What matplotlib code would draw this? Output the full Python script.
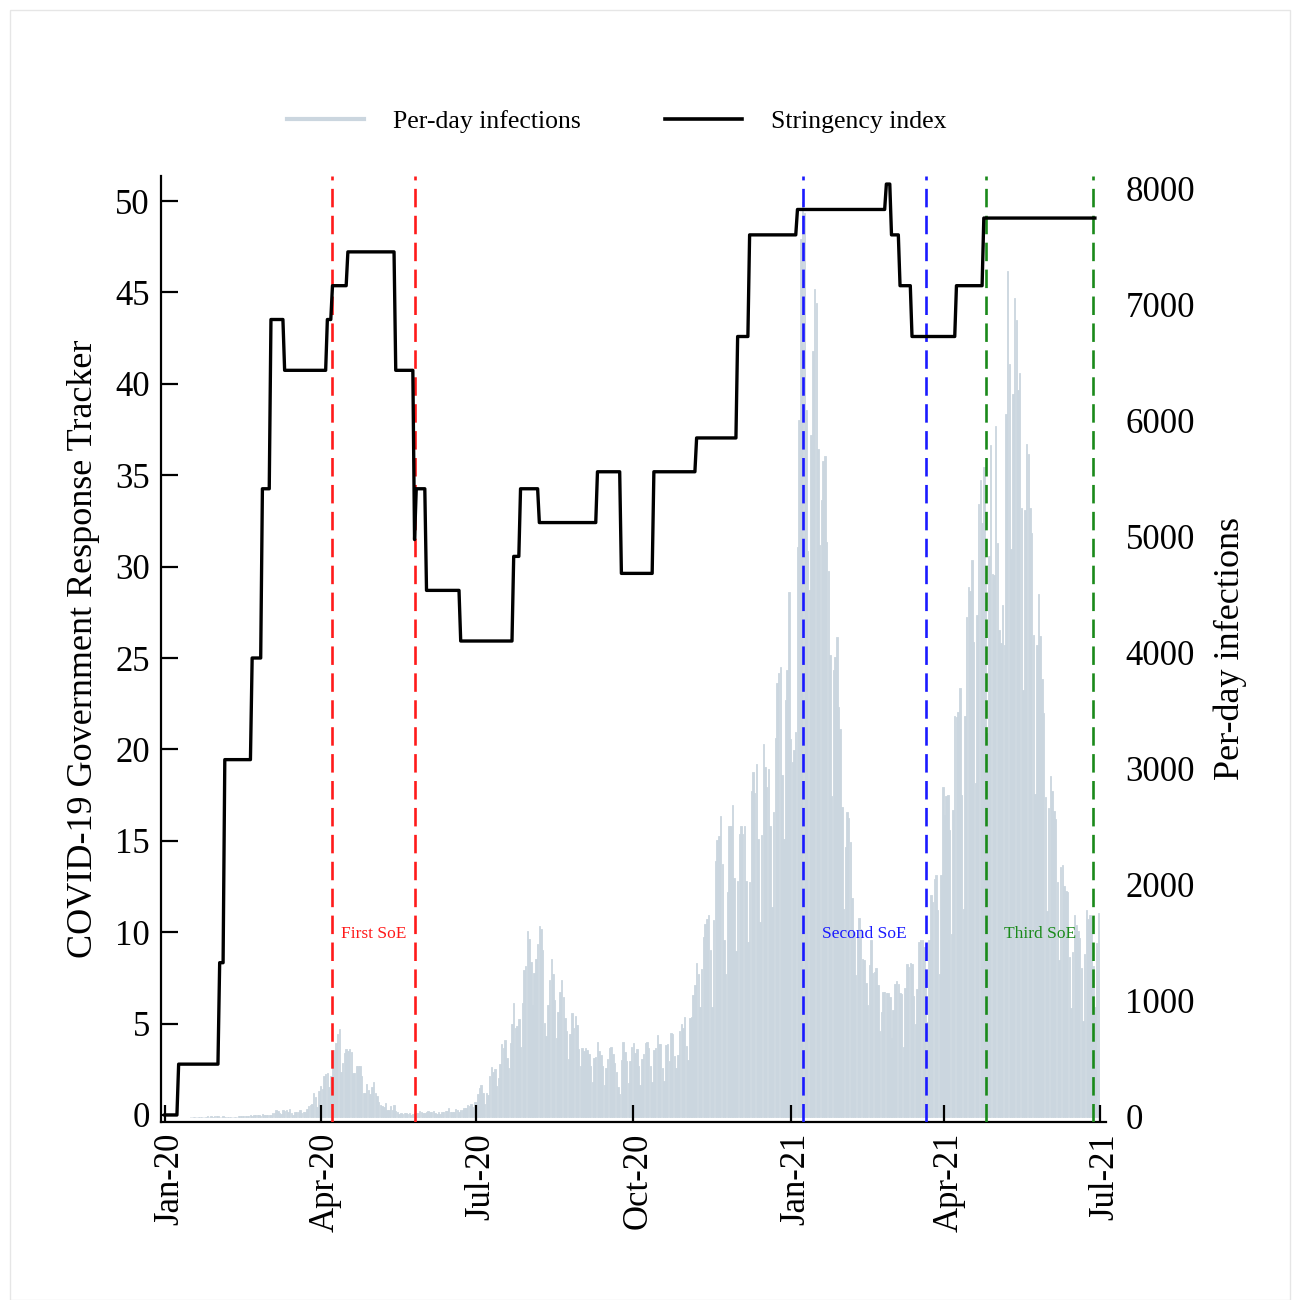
import numpy as np
import pandas as pd
import matplotlib
matplotlib.use('Agg')
import matplotlib.pyplot as plt
import matplotlib.dates as mdates
import matplotlib.transforms as mtransforms
from matplotlib.lines import Line2D
from matplotlib.patches import Rectangle

plt.rcParams['font.family'] = ['Liberation Serif', 'DejaVu Serif']

# per-day infections (first bar on 2020-01-16)
cases_start = '2020-01-16'
cases_2020_01 = [1, 0, 0, 0, 0, 0, 0, 0, 1, 1, 2, 0, 3, 1, 4, 3]
cases_2020_02 = [2, 0, 0, 3, 0, 0, 0, 0, 1, 0, 0, 0, 4, 8, 8, 5, 6, 7, 7, 12,
                 10, 17, 12, 11, 11, 10, 23, 15, 11]
cases_2020_03 = [12, 14, 17, 33, 36, 59, 47, 33, 26, 54, 52, 56, 41, 64, 35, 15, 44, 44, 39, 54,
                 33, 42, 39, 65, 94, 98, 112, 200, 173, 87, 225]
cases_2020_04 = [266, 235, 351, 367, 374, 252, 351, 511, 579, 639, 714, 760, 389, 463, 548, 586, 564, 584, 556, 373,
                 380, 440, 437, 440, 348, 204, 200, 280, 228, 192]
cases_2020_05 = [260, 302, 203, 175, 124, 97, 94, 82, 114, 61, 58, 90, 55, 99, 53, 40, 25, 31, 27, 35,
                 34, 24, 29, 14, 21, 35, 36, 36, 53, 43, 32]
cases_2020_06 = [32, 39, 46, 41, 42, 46, 35, 20, 38, 19, 39, 42, 49, 47, 71, 39, 43, 41, 69, 57,
                 44, 54, 59, 78, 71, 101, 92, 111, 87, 126]
cases_2020_07 = [129, 195, 250, 274, 208, 112, 205, 184, 354, 429, 386, 408, 264, 331, 458, 623, 595, 659, 510, 419,
                 631, 795, 981, 768, 783, 839, 598, 981, 1264, 1301, 1600]
cases_2020_08 = [1536, 1331, 962, 1237, 1356, 1485, 1645, 1620, 1440, 810, 697, 967, 1177, 1360, 1233, 1008, 680, 906, 1072, 1177,
                 1034, 853, 740, 497, 712, 898, 767, 867, 792, 586, 433]
cases_2020_09 = [596, 565, 590, 578, 538, 436, 297, 504, 514, 646, 564, 535, 439, 269, 420, 500, 596, 598, 538, 465,
                 383, 254, 199, 491, 646, 557, 479, 294, 483, 604]
cases_2020_10 = [635, 549, 582, 434, 271, 499, 543, 632, 645, 594, 438, 295, 578, 589, 700, 628, 623, 424, 311, 618,
                 629, 484, 722, 710, 524, 419, 533, 741, 796, 763, 858]
cases_2020_11 = [613, 487, 847, 857, 1046, 1138, 1326, 1226, 943, 1275, 1545, 1660, 1702, 1737, 1438, 949, 1694, 2201, 2386, 2424,
                 2596, 2177, 1520, 1228, 1937, 2504, 2509, 2684, 2060, 1429]
cases_2020_12 = [2030, 2433, 2507, 2439, 2508, 2029, 1503, 2024, 2810, 2971, 2788, 3041, 2394, 1681, 2430, 3211, 3019, 2843, 2994, 2505,
                 1804, 2631, 3269, 3740, 3825, 3878, 2946, 2390, 3593, 3852, 4520]
cases_2021_01 = [3257, 3057, 3158, 3320, 4915, 6004, 7570, 7882, 7790, 6094, 4876, 4537, 5875, 6605, 7133, 7014, 5759, 4925, 5320, 5654,
                 5692, 4956, 4706, 3983, 2764, 3853, 3960, 4132, 3534, 3346, 2673]
cases_2021_02 = [1787, 2324, 2631, 2576, 2372, 1882, 1589, 1218, 1568, 1710, 1614, 1359, 1353, 1151, 960, 1308, 1527, 1235, 1245, 1282,
                 1133, 739, 904, 1073, 1071, 1066, 1063, 1030]
cases_2021_03 = [676, 919, 1148, 1171, 1148, 1064, 1062, 599, 1113, 1316, 1288, 1323, 1314, 1040, 800, 1103, 1503, 1527, 1523, 1463,
                 1122, 816, 1519, 1915, 1854, 2047, 2082, 1784, 1233, 2085, 2842]
cases_2021_04 = [2605, 2765, 2770, 2470, 1571, 2646, 3451, 3447, 3488, 3697, 2777, 1791, 3451, 4312, 4569, 4535, 4801, 4093, 2880, 4326,
                 5284, 5493, 5119, 5603, 4596, 3307, 4832, 5789, 4678, 4673]
cases_2021_05 = [5959, 4947, 4192, 4084, 4410, 4068, 6054, 7290, 6488, 4898, 6233, 7057, 6865, 6264, 6415, 5248, 3679, 5232, 5797, 5711,
                 5250, 5032, 4151, 2781, 4064, 4506, 4141, 3771, 3482, 2755, 1769]
cases_2021_06 = [2660, 2941, 2811, 2636, 2567, 2024, 1351, 2154, 2170, 1993, 1944, 1938, 1381, 936, 1423, 1739, 1652, 1600, 1538, 1280,
                 822, 1399, 1784, 1701, 1742, 1718, 1302, 944, 1496, 1752]

# stringency index: date of each change and the level it moves to
stringency_dates = ['2020-01-01', '2020-01-09', '2020-02-02', '2020-02-05', '2020-02-21', '2020-02-27',
                    '2020-03-03', '2020-03-11', '2020-04-05', '2020-04-08', '2020-04-17', '2020-05-15',
                    '2020-05-26', '2020-05-27', '2020-06-02', '2020-06-22', '2020-07-23', '2020-07-27',
                    '2020-08-07', '2020-09-10', '2020-09-24', '2020-10-13', '2020-11-07', '2020-12-01',
                    '2020-12-08', '2021-01-05', '2021-02-26', '2021-03-01', '2021-03-06', '2021-03-13',
                    '2021-04-08', '2021-04-24']
stringency_levels = [0, 2.78, 8.33, 19.44, 25.0, 34.26,
                     43.52, 40.74, 43.52, 45.37, 47.22, 40.74,
                     31.48, 34.26, 28.70, 25.93, 30.56, 34.26,
                     32.41, 35.19, 29.63, 35.19, 37.04, 42.59,
                     48.15, 49.54, 50.93, 48.15, 45.37, 42.59,
                     45.37, 49.07]
stringency_end = '2021-06-28'

soe_names = ['First SoE', 'Second SoE', 'Third SoE']
soe_colors = ['#ff1a1a', '#1a1aff', '#1a8a1a']
soe_starts = ['2020-04-08', '2021-01-08', '2021-04-25']
soe_ends = ['2020-05-26', '2021-03-21', '2021-06-27']
soe_label_dates = ['2020-05-02', '2021-02-13', '2021-05-27']

xtick_dates = ['2020-01-01', '2020-04-01', '2020-07-01', '2020-10-01',
               '2021-01-01', '2021-04-01', '2021-07-01']

INF_COLOR = '#cbd6df'

daily_cases = (cases_2020_01 + cases_2020_02 + cases_2020_03 + cases_2020_04 + cases_2020_05
               + cases_2020_06 + cases_2020_07 + cases_2020_08 + cases_2020_09 + cases_2020_10
               + cases_2020_11 + cases_2020_12 + cases_2021_01 + cases_2021_02 + cases_2021_03
               + cases_2021_04 + cases_2021_05 + cases_2021_06)
case_days = pd.date_range(cases_start, periods=len(daily_cases), freq='D')

str_days = pd.date_range(stringency_dates[0], stringency_end, freq='D')
stringency = pd.Series(stringency_levels, index=pd.to_datetime(stringency_dates)).reindex(str_days).ffill()

fig = plt.figure(figsize=(12.93, 13.0), dpi=100)
ax = fig.add_axes([0.1245, 0.137, 0.7309, 0.7276])
ax2 = ax.twinx()

ax2.bar(case_days, daily_cases, width=0.85, color=INF_COLOR, edgecolor=INF_COLOR, linewidth=0.6)
ax.plot(str_days, stringency.values, color='black', lw=2.4, zorder=4)

for name, c, s, e, lx in zip(soe_names, soe_colors, soe_starts, soe_ends, soe_label_dates):
    for d in (s, e):
        ax.axvline(pd.Timestamp(d), color=c, lw=1.9, dashes=(7, 3.2), zorder=3)
    ax.text(pd.Timestamp(lx), 9.9, name, color=c, fontsize=12.5, ha='center', va='center')

ax.set_zorder(ax2.get_zorder() + 1)
ax.patch.set_visible(False)

ax.set_xlim(pd.Timestamp('2019-12-29 16:00'), pd.Timestamp('2021-07-04 12:00'))
ax.set_ylim(-0.38, 51.37)
ax2.set_ylim(-45, 8110)

ax.set_xticks(pd.to_datetime(xtick_dates))
ax.xaxis.set_major_formatter(mdates.DateFormatter('%b-%y'))
ax.set_yticks(np.arange(0, 51, 5))
ax2.set_yticks(np.arange(0, 8001, 1000))

for s in ['top', 'right']:
    ax.spines[s].set_visible(False)
for s in ax2.spines.values():
    s.set_visible(False)
ax.spines['left'].set_linewidth(1.6)
ax.spines['bottom'].set_linewidth(1.6)

ax.tick_params(axis='both', direction='in', length=12.5, width=1.6, labelsize=25, pad=8)
ax.tick_params(axis='x', labelrotation=90)
ax2.tick_params(axis='y', length=0, labelsize=25, pad=14)

# rotated date labels sit a little right of their ticks in the original
shift = mtransforms.ScaledTranslation(5 / 100, 0, fig.dpi_scale_trans)
for lbl in ax.get_xticklabels():
    lbl.set_transform(lbl.get_transform() + shift)

ax.set_ylabel('COVID-19 Government Response Tracker', fontsize=26, labelpad=11)
ax2.set_ylabel('Per-day infections', fontsize=26, labelpad=13)

handles = [Line2D([], [], color=INF_COLOR, lw=3), Line2D([], [], color='black', lw=2.6)]
fig.legend(handles, ['Per-day infections', 'Stringency index'], loc='center',
           bbox_to_anchor=(0.477, 0.9065), ncol=2, frameon=False, fontsize=18.5,
           handlelength=3.0, columnspacing=3.3, handletextpad=1.1)

fig.add_artist(Rectangle((10 / 1293, 0.0), 1280 / 1293, 1290 / 1300, transform=fig.transFigure,
                         fill=False, edgecolor='#e6e6e6', lw=1))

fig.savefig('out.png', dpi=100)
